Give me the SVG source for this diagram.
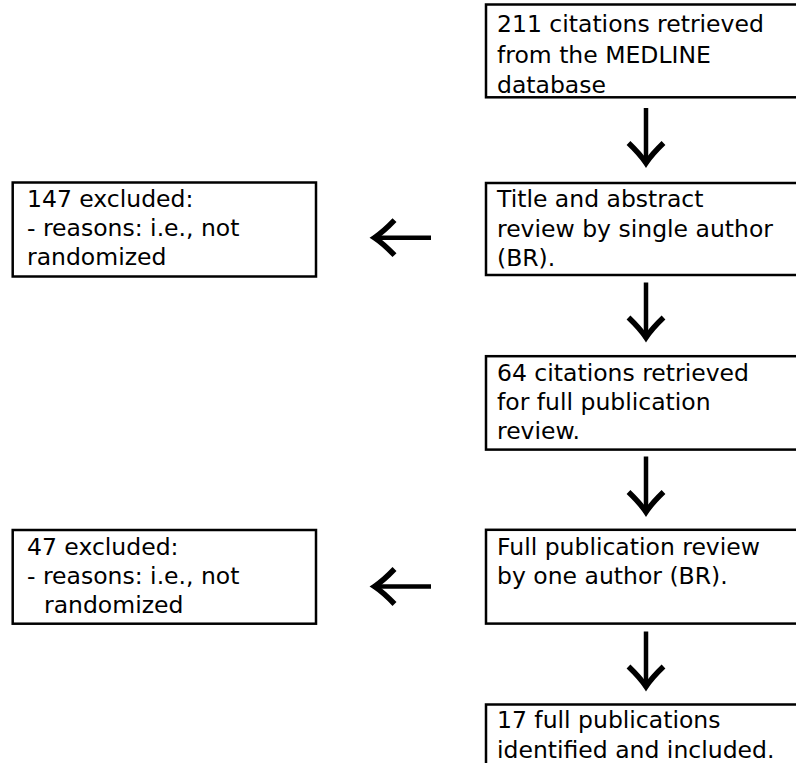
<svg xmlns="http://www.w3.org/2000/svg" width="796" height="763" viewBox="0 0 796 763">
  <style>
    .box { fill: none; stroke: #000; stroke-width: 2.5; }
    .t { font-family: "DejaVu Sans", Verdana, sans-serif; font-size: 23.5px; fill: #000; }
    .conn { stroke: #000; stroke-width: 4.5; fill: none; }
  </style>
  <defs>
    <marker id="ah" markerUnits="userSpaceOnUse" viewBox="-26 -22 30 44" markerWidth="30" markerHeight="44" refX="0" refY="0" orient="auto" overflow="visible">
      <path d="M-21,-17.5 Q-10,-6 -1,0 Q-10,6 -21,17.5" fill="none" stroke="#000" stroke-width="5.5" stroke-linejoin="miter" stroke-miterlimit="10"/>
    </marker>
  </defs>
  <rect width="796" height="763" fill="#fff"/>

  <g id="connectors">
    <line class="conn" x1="646" y1="108" x2="646" y2="164" marker-end="url(#ah)"/>
    <line class="conn" x1="646" y1="282.5" x2="646" y2="338.5" marker-end="url(#ah)"/>
    <line class="conn" x1="646" y1="456.5" x2="646" y2="513" marker-end="url(#ah)"/>
    <line class="conn" x1="646" y1="631.5" x2="646" y2="687.5" marker-end="url(#ah)"/>
    <line class="conn" x1="431" y1="237.7" x2="373.5" y2="237.7" marker-end="url(#ah)"/>
    <line class="conn" x1="431" y1="586.5" x2="373.5" y2="586.5" marker-end="url(#ah)"/>
  </g>

  <g id="n1">
    <rect class="box" x="486" y="4.5" width="320" height="92.8"/>
    <text class="t" x="497" y="32">211 citations retrieved</text>
    <text class="t" x="497" y="62.5">from the MEDLINE</text>
    <text class="t" x="497" y="93">database</text>
  </g>
  <g id="n2">
    <rect class="box" x="486" y="183" width="320" height="92"/>
    <text class="t" x="497" y="206.5">Title and abstract</text>
    <text class="t" x="497" y="236.5">review by single author</text>
    <text class="t" x="497" y="266">(BR).</text>
  </g>
  <g id="n3">
    <rect class="box" x="486" y="356.2" width="320" height="93.4"/>
    <text class="t" x="497" y="380.5">64 citations retrieved</text>
    <text class="t" x="497" y="409.5">for full publication</text>
    <text class="t" x="497" y="438.5">review.</text>
  </g>
  <g id="n4">
    <rect class="box" x="486" y="529.8" width="320" height="93.8"/>
    <text class="t" x="497" y="554.5">Full publication review</text>
    <text class="t" x="497" y="584">by one author (BR).</text>
  </g>
  <g id="n5">
    <rect class="box" x="486" y="704.5" width="320" height="80"/>
    <text class="t" x="497" y="728">17 full publications</text>
    <text class="t" x="497" y="758.3">identified and included.</text>
  </g>
  <g id="n6">
    <rect class="box" x="12.7" y="182.5" width="303.3" height="94"/>
    <text class="t" x="27" y="206.7">147 excluded:</text>
    <text class="t" x="27" y="236">- reasons: i.e., not</text>
    <text class="t" x="27" y="265">randomized</text>
  </g>
  <g id="n7">
    <rect class="box" x="12.7" y="530" width="303.3" height="93.7"/>
    <text class="t" x="27" y="555">47 excluded:</text>
    <text class="t" x="27" y="584">- reasons: i.e., not</text>
    <text class="t" x="44" y="613">randomized</text>
  </g>
</svg>
